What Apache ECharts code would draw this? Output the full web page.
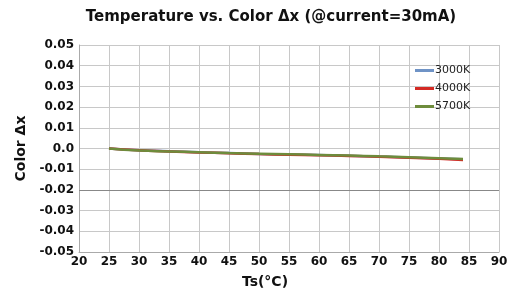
<!DOCTYPE html>
<html><head><meta charset="utf-8">
<script src="https://cdn.jsdelivr.net/npm/echarts@6/dist/echarts.min.js"></script>
<style>html,body{margin:0;padding:0;background:#fff}#c{width:514px;height:294px}</style>
</head><body><div id="c"></div>
<script>
const temps = [25,30,35,40,45,50,55,60,65,70,75,80,84];
const s3000 = [0,-0.0008,-0.0013,-0.0018,-0.0022,-0.0026,-0.0029,-0.0032,-0.0035,-0.0039,-0.0043,-0.0048,-0.0052];
const s4000 = [0,-0.0009,-0.0014,-0.0019,-0.0023,-0.0027,-0.0030,-0.0033,-0.0036,-0.0040,-0.0045,-0.0050,-0.0055];
const s5700 = [0,-0.0010,-0.0014,-0.0018,-0.0022,-0.0025,-0.0028,-0.0031,-0.0034,-0.0038,-0.0042,-0.0047,-0.0051];
const seriesNames = ['3000K','4000K','5700K'];
const colors = ['#6f93c6','#d42a24','#6e8c3c'];
const F = 'DejaVu Sans, Verdana, sans-serif';
const chart = echarts.init(document.getElementById('c'));
const mk = (arr) => temps.map((t,i)=>[t,arr[i]]);
chart.setOption({
  animation:false,
  title:{text:'Temperature vs. Color Δx (@current=30mA)',left:266,textAlign:'center',top:5,
    textStyle:{fontFamily:F,fontSize:15,fontWeight:'bold',color:'#111'}},
  grid:{left:79,right:15,top:45,bottom:39},
  legend:{orient:'vertical',left:410,top:60,itemWidth:19,itemHeight:3,itemGap:7,icon:'rect',
    textStyle:{fontFamily:F,fontSize:11,color:'#222',padding:[0,0,0,-4]},data:seriesNames},
  xAxis:{type:'value',min:20,max:90,interval:5,name:'Ts(°C)',nameLocation:'middle',nameGap:23,
    nameTextStyle:{fontFamily:F,fontSize:14,fontWeight:'bold',color:'#111',padding:[0,48,0,0]},
    axisLine:{onZero:false,lineStyle:{color:'#aaa'}},axisTick:{show:false},
    axisLabel:{fontFamily:F,fontSize:12,fontWeight:'bold',color:'#111',margin:4},
    splitLine:{lineStyle:{color:'#c8c8c8'}}},
  yAxis:{type:'value',min:-0.05,max:0.05,interval:0.01,name:'Color Δx',nameLocation:'middle',nameGap:50,
    nameTextStyle:{fontFamily:F,fontSize:14,fontWeight:'bold',color:'#111'},
    axisLine:{show:true,lineStyle:{color:'#aaa'}},axisTick:{show:false},
    axisLabel:{fontFamily:F,fontSize:12,fontWeight:'bold',color:'#111',margin:5,
      formatter:v=>{const r=Math.round(v*100);return r===0?'0.0':(r/100).toFixed(2);}},
    splitLine:{lineStyle:{color:'#c8c8c8'}}},
  series:[s3000,s4000,s5700].map((arr,i)=>({
    name:seriesNames[i],type:'line',data:mk(arr),showSymbol:false,smooth:true,
    lineStyle:{width:2.5,color:colors[i]},itemStyle:{color:colors[i]},
    markLine: i===0 ? {silent:true,symbol:'none',label:{show:false},lineStyle:{color:'#888',type:'solid',width:1},data:[{yAxis:-0.02}]} : undefined
  }))
});
</script></body></html>
